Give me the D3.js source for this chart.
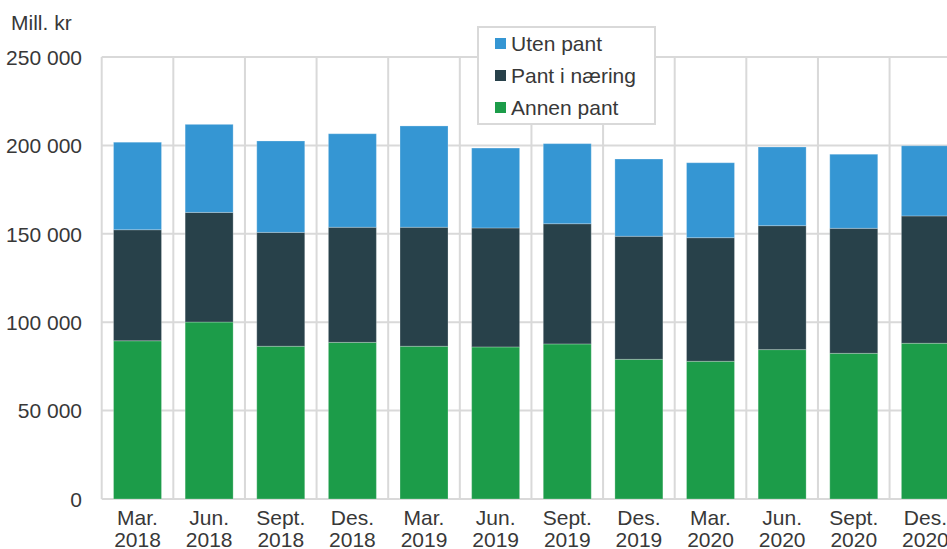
<!DOCTYPE html>
<html>
<head>
<meta charset="utf-8">
<script src="https://cdn.jsdelivr.net/npm/d3@7"></script>
<style>
  html, body { margin: 0; padding: 0; background: #fff; overflow: hidden; }
  text { font-family: "Liberation Sans", Arial, sans-serif; fill: #383838; }
</style>
</head>
<body>
<svg id="chart" width="947" height="549"></svg>
<script>
// ---- Data ----
const categories = ["Mar. 2018", "Jun. 2018", "Sept. 2018", "Des. 2018",
                    "Mar. 2019", "Jun. 2019", "Sept. 2019", "Des. 2019",
                    "Mar. 2020", "Jun. 2020", "Sept. 2020", "Des. 2020"];
const seriesNames = ["Annen pant", "Pant i næring", "Uten pant"];
const annenPant   = [89500, 100100, 86400, 88600, 86400, 86000, 87700, 79000, 77900, 84500, 82400, 88100];
const pantNaering = [62800, 62000, 64400, 65100, 67300, 67300, 68000, 69600, 69900, 70100, 70700, 72000];
const utenPant    = [49500, 49800, 51700, 52900, 57300, 45200, 45300, 43700, 42400, 44500, 41900, 39700];
const yTicks = [0, 50000, 100000, 150000, 200000, 250000];
const yLabel = "Mill. kr";
const legendOrder = ["Uten pant", "Pant i næring", "Annen pant"];
const colors = { "Annen pant": "#1c9c49", "Pant i næring": "#28414a", "Uten pant": "#3596d3" };

// ---- Build table ----
const table = categories.map((c, i) => ({
  cat: c,
  "Annen pant": annenPant[i],
  "Pant i næring": pantNaering[i],
  "Uten pant": utenPant[i]
}));
const stacked = d3.stack().keys(seriesNames)(table);

const svg = d3.select("#chart");
const x = d3.scaleBand().domain(categories).range([101.7, 961.2]).paddingInner(0.33).paddingOuter(0.165);
const y = d3.scaleLinear().domain([0, 250000]).range([499, 57]);
const locale = d3.formatLocale({ decimal: ",", thousands: " ", grouping: [3], currency: ["", " kr"] });
const fmt = locale.format(",d");
const gridColor = "#d9d9d9";
const fontSize = "21px";

// horizontal gridlines
svg.append("g").selectAll("line").data(yTicks).join("line")
  .attr("x1", x.range()[0]).attr("x2", x.range()[1])
  .attr("y1", d => y(d)).attr("y2", d => y(d))
  .attr("stroke", gridColor).attr("stroke-width", 2);

// vertical gridlines at category boundaries
const step = x.step();
const bounds = categories.map(c => x(c) - step * x.paddingInner() / 2).concat([x.range()[1]]);
svg.append("g").selectAll("line").data(bounds).join("line")
  .attr("x1", d => d).attr("x2", d => d)
  .attr("y1", y(250000)).attr("y2", y(0))
  .attr("stroke", gridColor).attr("stroke-width", 2);

// bars
svg.append("g").selectAll("g").data(stacked).join("g")
  .attr("fill", d => colors[d.key])
  .selectAll("rect").data(d => d).join("rect")
  .attr("x", d => x(d.data.cat))
  .attr("width", x.bandwidth())
  .attr("y", d => y(d[1]))
  .attr("height", d => y(d[0]) - y(d[1]))
  .attr("stroke", "rgba(255,255,255,0.25)")
  .attr("stroke-width", 1);

// y axis labels
const yAxis = d3.axisLeft(y).tickValues(yTicks).tickFormat(fmt).tickSize(0).tickPadding(0);
const gy = svg.append("g").attr("transform", "translate(82,0)").call(yAxis);
gy.select(".domain").remove();
gy.selectAll("text").attr("font-size", fontSize).attr("fill", "#383838")
  .attr("font-family", "Liberation Sans, Arial, sans-serif").attr("dy", "0.35em");

// x axis labels (two lines)
const xAxis = d3.axisBottom(x).tickSize(0).tickFormat("");
const gx = svg.append("g").attr("transform", "translate(0,499)").call(xAxis);
gx.select(".domain").remove();
gx.selectAll(".tick").each(function(d) {
  const parts = d.split(" ");
  const t = d3.select(this).append("text")
    .attr("text-anchor", "middle").attr("font-size", fontSize).attr("fill", "#383838");
  t.append("tspan").attr("x", 0).attr("y", 19).attr("dy", "0.35em").text(parts[0]);
  t.append("tspan").attr("x", 0).attr("y", 41).attr("dy", "0.35em").text(parts[1]);
});

// y unit label
svg.append("text").attr("x", 11).attr("y", 23).attr("dy", "0.35em")
  .attr("font-size", fontSize).text(yLabel);

// legend
const lg = svg.append("g");
lg.append("rect").attr("x", 478).attr("y", 27).attr("width", 177).attr("height", 97)
  .attr("fill", "#fff").attr("stroke", gridColor).attr("stroke-width", 2);
legendOrder.forEach((k, i) => {
  const cy = 43.5 + i * 32;
  lg.append("rect").attr("x", 495).attr("y", cy - 5.5).attr("width", 11).attr("height", 11).attr("fill", colors[k]);
  lg.append("text").attr("x", 511).attr("y", cy).attr("dy", "0.35em").attr("font-size", fontSize).text(k);
});
</script>
</body>
</html>
